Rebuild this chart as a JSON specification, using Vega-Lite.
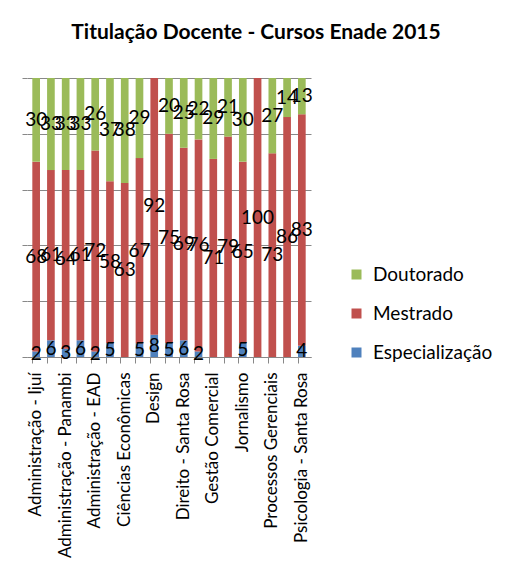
{
  "$schema": "https://vega.github.io/schema/vega-lite/v6.json",
  "autosize": {"type": "none"},
  "width": 284,
  "height": 279,
  "padding": {"left": 27, "top": 78, "right": 201, "bottom": 224},
  "background": "white",
  "config": {"font": "Lato", "view": {"stroke": null}},
  "title": {
    "text": "Titulação Docente - Cursos Enade 2015",
    "font": "Lato",
    "fontSize": 21,
    "fontWeight": "bold",
    "color": "black",
    "anchor": "middle",
    "frame": "group",
    "baseline": "alphabetic",
    "offset": 18,
    "dx": 87
  },
  "data": {
    "values": [
      {"Curso": "Administração - Ijuí", "Titulacao": "Especialização", "Valor": 2},
      {"Curso": "Administração - Ijuí", "Titulacao": "Mestrado", "Valor": 68},
      {"Curso": "Administração - Ijuí", "Titulacao": "Doutorado", "Valor": 30},
      {"Curso": "Administração - Três Passos", "Titulacao": "Especialização", "Valor": 6},
      {"Curso": "Administração - Três Passos", "Titulacao": "Mestrado", "Valor": 61},
      {"Curso": "Administração - Três Passos", "Titulacao": "Doutorado", "Valor": 33},
      {"Curso": "Administração - Panambi", "Titulacao": "Especialização", "Valor": 3},
      {"Curso": "Administração - Panambi", "Titulacao": "Mestrado", "Valor": 64},
      {"Curso": "Administração - Panambi", "Titulacao": "Doutorado", "Valor": 33},
      {"Curso": "Administração - Santa Rosa", "Titulacao": "Especialização", "Valor": 6},
      {"Curso": "Administração - Santa Rosa", "Titulacao": "Mestrado", "Valor": 61},
      {"Curso": "Administração - Santa Rosa", "Titulacao": "Doutorado", "Valor": 33},
      {"Curso": "Administração - EAD", "Titulacao": "Especialização", "Valor": 2},
      {"Curso": "Administração - EAD", "Titulacao": "Mestrado", "Valor": 72},
      {"Curso": "Administração - EAD", "Titulacao": "Doutorado", "Valor": 26},
      {"Curso": "Ciências Contábeis", "Titulacao": "Especialização", "Valor": 5},
      {"Curso": "Ciências Contábeis", "Titulacao": "Mestrado", "Valor": 58},
      {"Curso": "Ciências Contábeis", "Titulacao": "Doutorado", "Valor": 37},
      {"Curso": "Ciências Econômicas", "Titulacao": "Mestrado", "Valor": 63},
      {"Curso": "Ciências Econômicas", "Titulacao": "Doutorado", "Valor": 38},
      {"Curso": "Comércio Exterior", "Titulacao": "Especialização", "Valor": 5},
      {"Curso": "Comércio Exterior", "Titulacao": "Mestrado", "Valor": 67},
      {"Curso": "Comércio Exterior", "Titulacao": "Doutorado", "Valor": 29},
      {"Curso": "Design", "Titulacao": "Especialização", "Valor": 8},
      {"Curso": "Design", "Titulacao": "Mestrado", "Valor": 92},
      {"Curso": "Direito - Ijuí", "Titulacao": "Especialização", "Valor": 5},
      {"Curso": "Direito - Ijuí", "Titulacao": "Mestrado", "Valor": 75},
      {"Curso": "Direito - Ijuí", "Titulacao": "Doutorado", "Valor": 20},
      {"Curso": "Direito - Santa Rosa", "Titulacao": "Especialização", "Valor": 6},
      {"Curso": "Direito - Santa Rosa", "Titulacao": "Mestrado", "Valor": 69},
      {"Curso": "Direito - Santa Rosa", "Titulacao": "Doutorado", "Valor": 25},
      {"Curso": "Direito - Três Passos", "Titulacao": "Especialização", "Valor": 2},
      {"Curso": "Direito - Três Passos", "Titulacao": "Mestrado", "Valor": 76},
      {"Curso": "Direito - Três Passos", "Titulacao": "Doutorado", "Valor": 22},
      {"Curso": "Gestão Comercial", "Titulacao": "Mestrado", "Valor": 71},
      {"Curso": "Gestão Comercial", "Titulacao": "Doutorado", "Valor": 29},
      {"Curso": "Gestão Financeira", "Titulacao": "Mestrado", "Valor": 79},
      {"Curso": "Gestão Financeira", "Titulacao": "Doutorado", "Valor": 21},
      {"Curso": "Jornalismo", "Titulacao": "Especialização", "Valor": 5},
      {"Curso": "Jornalismo", "Titulacao": "Mestrado", "Valor": 65},
      {"Curso": "Jornalismo", "Titulacao": "Doutorado", "Valor": 30},
      {"Curso": "Pedagogia", "Titulacao": "Mestrado", "Valor": 100},
      {"Curso": "Processos Gerenciais", "Titulacao": "Mestrado", "Valor": 73},
      {"Curso": "Processos Gerenciais", "Titulacao": "Doutorado", "Valor": 27},
      {"Curso": "Psicologia - Ijuí", "Titulacao": "Mestrado", "Valor": 86},
      {"Curso": "Psicologia - Ijuí", "Titulacao": "Doutorado", "Valor": 14},
      {"Curso": "Psicologia - Santa Rosa", "Titulacao": "Especialização", "Valor": 4},
      {"Curso": "Psicologia - Santa Rosa", "Titulacao": "Mestrado", "Valor": 83},
      {"Curso": "Psicologia - Santa Rosa", "Titulacao": "Doutorado", "Valor": 13}
    ]
  },
  "transform": [
    {"stack": "Valor", "groupby": ["Curso"], "offset": "normalize", "as": ["y0", "y1"]}
  ],
  "layer": [
    {
      "mark": {"type": "bar"},
      "encoding": {
        "x": {
          "field": "Curso", "type": "nominal",
          "scale": {
            "domain": ["Administração - Ijuí", "Administração - Três Passos", "Administração - Panambi", "Administração - Santa Rosa", "Administração - EAD", "Ciências Contábeis", "Ciências Econômicas", "Comércio Exterior", "Design", "Direito - Ijuí", "Direito - Santa Rosa", "Direito - Três Passos", "Gestão Comercial", "Gestão Financeira", "Jornalismo", "Pedagogia", "Processos Gerenciais", "Psicologia - Ijuí", "Psicologia - Santa Rosa"],
            "paddingInner": 0.48, "paddingOuter": 0.36
          },
          "axis": {
            "title": null,
            "labelAngle": -90,
            "labelAlign": "right",
            "labelBaseline": "middle",
            "labelFont": "Lato",
            "labelFontSize": 17,
            "labelColor": "black",
            "labelPadding": 9,
            "labelExpr": "round(datum.index * 18) % 2 == 0 ? datum.label : ''",
            "labelOverlap": false,
            "labelBound": false,
            "labelLimit": 0,
            "bandPosition": 0,
            "tickColor": "#888888",
            "tickSize": 6,
            "domainColor": "#888888"
          }
        },
        "y": {
          "field": "y0", "type": "quantitative",
          "scale": {"domain": [0, 1], "nice": false},
          "axis": {
            "title": null,
            "labels": false,
            "values": [0, 0.1, 0.2, 0.3, 0.4, 0.5, 0.6, 0.7, 0.8, 0.9, 1],
            "grid": true,
            "gridColor": "#888888",
            "tickColor": "#888888",
            "tickSize": 5,
            "domain": false
          }
        },
        "y2": {"field": "y1"},
        "color": {
          "field": "Titulacao", "type": "nominal",
          "scale": {"domain": ["Doutorado", "Mestrado", "Especialização"], "range": ["#9BBB59", "#C0504D", "#4F81BD"]},
          "legend": {
            "title": null,
            "orient": "none",
            "legendX": 320,
            "legendY": 187,
            "symbolType": "square",
            "symbolSize": 100,
            "symbolStrokeWidth": 0,
            "labelFont": "Lato",
            "labelFontSize": 19,
            "labelColor": "black",
            "labelOffset": 7,
            "rowPadding": 19
          }
        }
      }
    },
    {
      "transform": [
        {"fold": ["y0", "y1"], "as": ["k", "yv"]},
        {"aggregate": [{"op": "mean", "field": "yv", "as": "ymid"}], "groupby": ["Curso", "Titulacao", "Valor"]}
      ],
      "mark": {"type": "text", "font": "Lato", "fontSize": 19, "color": "black", "baseline": "middle", "align": "center"},
      "encoding": {
        "x": {"field": "Curso", "type": "nominal"},
        "y": {"field": "ymid", "type": "quantitative"},
        "text": {"field": "Valor", "type": "quantitative"}
      }
    }
  ]
}
